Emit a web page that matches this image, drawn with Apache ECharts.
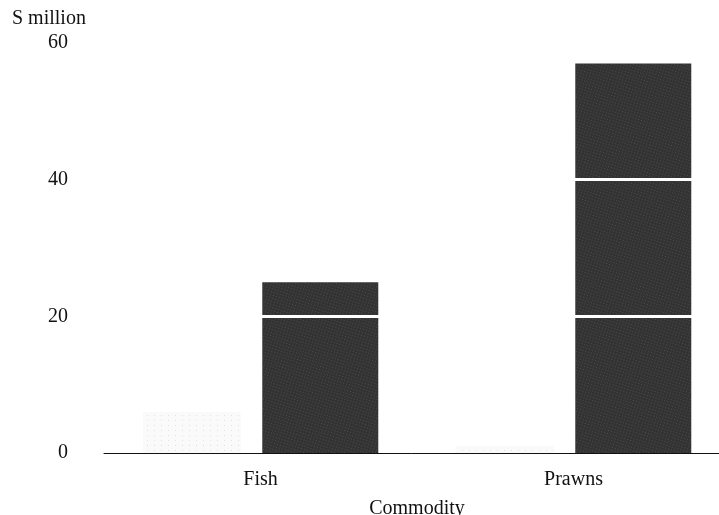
<!DOCTYPE html>
<html>
<head>
<meta charset="utf-8">
<script src="https://cdn.jsdelivr.net/npm/echarts@6/dist/echarts.min.js"></script>
<style>
  html, body { margin: 0; padding: 0; background: #fff; }
  #main { width: 719px; height: 515px; }
</style>
</head>
<body>
<div id="main"></div>
<script>
// values
var categories = ['Fish', 'Prawns'];
var earlierValues = [6, 1];
var laterValues = [25, 57];
var yTicks = [0, 20, 40, 60];

var chart = echarts.init(document.getElementById('main'));
var serif = '"Liberation Serif", "DejaVu Serif", serif';

var option = {
  backgroundColor: '#fff',
  animation: false,
  // axis runs a little past the right edge in the scan
  grid: { left: 104, right: -11, top: 43, bottom: 62, outerBoundsMode: 'none' },
  graphic: [{
    type: 'text', left: 12, top: 9,
    style: { text: 'S million', font: '20px ' + serif, fill: '#111' }
  }],
  xAxis: {
    type: 'category',
    data: categories,
    name: 'Commodity',
    nameLocation: 'middle',
    nameGap: 46,
    nameTextStyle: { fontFamily: serif, fontSize: 20, color: '#111' },
    axisLine: { lineStyle: { color: '#111', width: 1 } },
    axisTick: { show: false },
    axisLabel: { fontFamily: serif, fontSize: 20, color: '#111', margin: 17 }
  },
  yAxis: {
    type: 'value',
    min: yTicks[0],
    max: yTicks[yTicks.length - 1],
    interval: 20,
    axisLine: { show: false },
    axisTick: { show: false },
    splitLine: { show: false },
    axisLabel: { fontFamily: serif, fontSize: 20, color: '#111', margin: 36 }
  },
  series: [{
    name: 'Earlier',
    type: 'bar',
    data: earlierValues,
    barWidth: 98,
    barGap: '22%',
    itemStyle: {
      color: '#fafafa',
      decal: { symbol: 'rect', symbolSize: 0.6, dashArrayX: [1, 6], dashArrayY: [1, 4], color: 'rgba(110,110,110,0.55)' }
    }
  }, {
    name: 'Later',
    type: 'bar',
    data: laterValues,
    barWidth: 116,
    itemStyle: {
      color: '#333333',
      decal: { symbol: 'rect', symbolSize: 0.7, dashArrayX: [1, 2], dashArrayY: [1, 2], rotation: 0.3, color: 'rgba(175,175,175,0.6)' }
    },
    markLine: {
      silent: true,
      symbol: 'none',
      label: { show: false },
      lineStyle: { color: '#fff', type: 'solid', width: 3 },
      data: [{ yAxis: 20 }, { yAxis: 40 }]
    }
  }]
};

chart.setOption(option);
</script>
</body>
</html>
